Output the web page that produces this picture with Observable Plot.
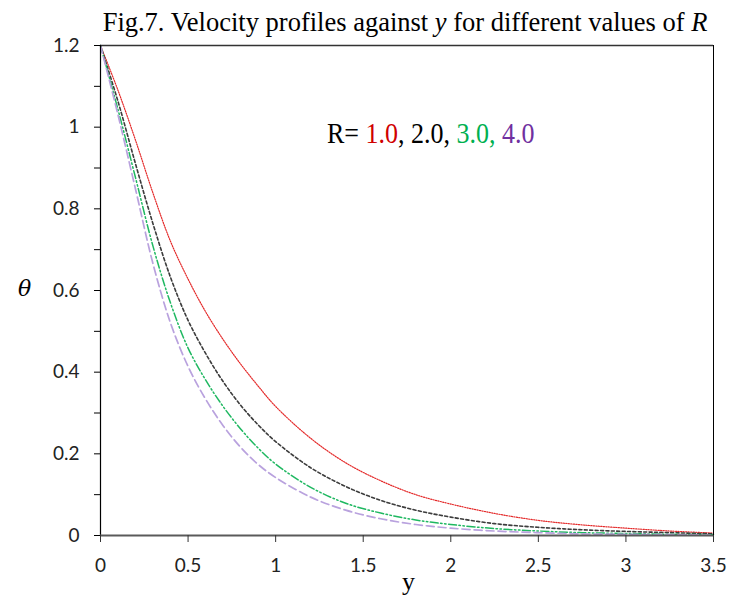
<!DOCTYPE html>
<html><head><meta charset="utf-8">
<script src="https://cdn.jsdelivr.net/npm/d3@7"></script>
<script src="https://cdn.jsdelivr.net/npm/@observablehq/plot@0.6"></script>
<style>
body{margin:0;background:#fff;}
#wrap{position:relative;width:743px;height:599px;overflow:hidden;}
#title{position:absolute;left:0;top:7px;width:810px;text-align:center;font-family:"Liberation Serif","Times New Roman",serif;font-size:26.5px;color:#000;white-space:nowrap;}
#legend{position:absolute;left:327px;top:119px;font-family:"Liberation Serif","Times New Roman",serif;font-size:26px;white-space:nowrap;transform:scaleY(1.12);transform-origin:left center;}
#ylab{position:absolute;left:18px;top:276px;font-family:"DejaVu Serif",serif;font-style:italic;font-size:22px;}
#xlab{position:absolute;left:402px;top:567px;font-family:"Liberation Serif",serif;font-size:26px;}
</style></head><body>
<div id="wrap"><div id="chart"></div>
<div id="title">Fig.7. Velocity profiles against <i>y</i> for different values of <i>R</i></div>
<div id="legend"><span style="color:#000">R= </span><span style="color:#d00000">1.0</span><span style="color:#000">, 2.0, </span><span style="color:#00b050">3.0, </span><span style="color:#7030a0">4.0</span></div>
<div id="ylab">θ</div>
<div id="xlab">y</div>
</div>
<script>
// y positions (x-axis variable)
const ys = [0, 0.1, 0.2, 0.3, 0.4, 0.5, 0.6, 0.7, 0.8, 0.9, 1.0, 1.2, 1.4, 1.6, 1.8, 2.0, 2.25, 2.5, 2.75, 3.0, 3.25, 3.5];
// velocity profiles for R = 1, 2, 3, 4
const thetaR1 = [1.2, 1.09, 0.968, 0.838, 0.72, 0.628, 0.548, 0.48, 0.42, 0.366, 0.316, 0.238, 0.178, 0.134, 0.100, 0.077, 0.054, 0.037, 0.026, 0.018, 0.011, 0.006];
const thetaR2 = [1.2, 1.063, 0.91, 0.763, 0.632, 0.527, 0.446, 0.377, 0.319, 0.271, 0.230, 0.166, 0.120, 0.086, 0.062, 0.045, 0.029, 0.020, 0.014, 0.010, 0.007, 0.004];
const thetaR3 = [1.2, 1.043, 0.876, 0.708, 0.569, 0.459, 0.381, 0.316, 0.261, 0.214, 0.175, 0.118, 0.079, 0.055, 0.038, 0.027, 0.017, 0.011, 0.007, 0.005, 0.003, 0.002];
const thetaR4 = [1.2, 1.03, 0.848, 0.665, 0.52, 0.414, 0.334, 0.269, 0.216, 0.174, 0.142, 0.094, 0.062, 0.041, 0.027, 0.018, 0.011, 0.007, 0.004, 0.003, 0.002, 0.001];
const xTicks = [0, 0.5, 1, 1.5, 2, 2.5, 3, 3.5];
const yTicks = [0, 0.2, 0.4, 0.6, 0.8, 1, 1.2];
const yMinorTicks = [0.1, 0.3, 0.5, 0.7, 0.9, 1.1];

const series = [
  {vals: thetaR1, stroke: "#e42a2a", dash: "1.2,1.3", w: 1.2},
  {vals: thetaR2, stroke: "#3c3c3c", dash: "3,2.4", w: 1.6},
  {vals: thetaR3, stroke: "#1fb861", dash: "8,2.5,1.5,2.5,1.5,2.5", w: 1.5},
  {vals: thetaR4, stroke: "#b9a2de", dash: "8,4", w: 1.7}
];
const fmt = d => String(+d.toFixed(1));

const lineMarks = series.map(s => Plot.line(ys.map((x, i) => ({x, y: s.vals[i]})), {
  x: "x", y: "y", stroke: s.stroke, strokeWidth: s.w, strokeDasharray: s.dash, curve: "catmull-rom"
}));

const chart = Plot.plot({
  width: 743, height: 599,
  marginLeft: 100, marginRight: 30, marginTop: 45, marginBottom: 64,
  style: {fontFamily: "Lato, 'Open Sans', sans-serif", fontSize: "19px", color: "#222", background: "#fff"},
  x: {domain: [0, 3.5]},
  y: {domain: [0, 1.2]},
  marks: [
    ...lineMarks,
    Plot.ruleY([1.2], {stroke: "#333", strokeWidth: 1.5}),
    Plot.ruleX([3.5], {stroke: "#000", strokeWidth: 1}),
    Plot.ruleX([0], {stroke: "#000", strokeWidth: 1.2}),
    Plot.ruleY([0], {stroke: "#5a5a5a", strokeWidth: 2}),
    Plot.axisY({ticks: yTicks, tickSize: 6, tickPadding: 15, tickFormat: fmt, stroke: "#000", label: null, fontSize: 19}),
    Plot.axisY({ticks: yMinorTicks, tickSize: 6, tickFormat: () => "", stroke: "#000", label: null}),
    Plot.axisX({ticks: xTicks, tickSize: 7, tickPadding: 16, tickFormat: fmt, stroke: "#333", label: null, fontSize: 19})
  ]
});
document.getElementById("chart").appendChild(chart);
</script>
</body></html>
